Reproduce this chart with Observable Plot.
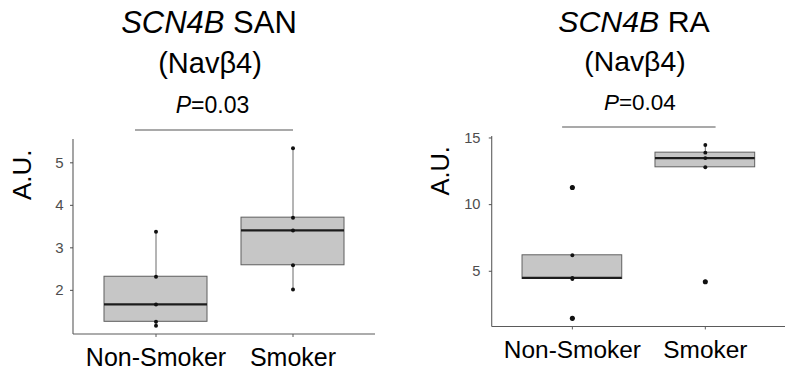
<!DOCTYPE html>
<html>
<head>
<meta charset="utf-8">
<script src="https://cdn.jsdelivr.net/npm/d3@7"></script>
<script src="https://cdn.jsdelivr.net/npm/@observablehq/plot@0.6"></script>
<style>
  html, body { margin: 0; padding: 0; background: #fff; }
  #charts { display: flex; width: 785px; height: 373px; overflow: hidden; }
  .panel { overflow: hidden; flex: none; }
</style>
</head>
<body>
<div id="charts"></div>
<script>
// Expression of SCN4B (Navβ4) in sinoatrial node and right atrium, by smoking status
const groups = ["Non-Smoker", "Smoker"];

const sanNonSmoker = [3.38, 2.32, 1.67, 1.26, 1.17];
const sanSmoker = [5.34, 3.71, 3.41, 2.59, 2.02];
const raNonSmoker = [11.29, 6.2, 4.5, 4.42, 1.47];
const raSmoker = [14.47, 13.9, 13.49, 12.8, 4.22];

const sanTicks = [2, 3, 4, 5];
const raTicks = [5, 10, 15];

const geneName = "SCN4B";
const proteinName = "(Navβ4)";
const tissues = ["SAN", "RA"];
const pValues = ["0.03", "0.04"];
const yLabel = "A.U.";

const font = "'Liberation Sans', Arial, Helvetica, sans-serif";
const axisGrey = "#5a5a5a";

// Tukey box statistics (type-7 quantiles, 1.5 × IQR whiskers)
function boxStats(group, values) {
  const v = values.slice().sort(d3.ascending);
  const q1 = d3.quantile(v, 0.25), q2 = d3.quantile(v, 0.5), q3 = d3.quantile(v, 0.75);
  const iqr = q3 - q1;
  const lo = d3.min(v.filter(d => d >= q1 - 1.5 * iqr));
  const hi = d3.max(v.filter(d => d <= q3 + 1.5 * iqr));
  const outliers = v.filter(d => d < lo || d > hi).map(value => ({group, value}));
  return {group, q1, q2, q3, lo, hi, outliers};
}

// Left and bottom axis lines along the frame edges
function axisLines(...args) {
  const dims = args.find(a => a && a.marginLeft !== undefined);
  const g = d3.create("svg:g").attr("stroke", axisGrey).attr("stroke-width", 1.1);
  const x0 = dims.marginLeft, x1 = dims.width - dims.marginRight;
  const y0 = dims.marginTop, y1 = dims.height - dims.marginBottom;
  g.append("line").attr("x1", x0).attr("x2", x0).attr("y1", y0).attr("y2", y1);
  g.append("line").attr("x1", x0).attr("x2", x1).attr("y1", y1).attr("y2", y1);
  return g.node();
}

function panel({series, ticks, tissue, p, width, marginLeft, marginRight,
                titleDx, subDx, pDx, bracketLeft, bracketRight, yLabelDx, tickPadding}) {
  const records = groups.flatMap((g, i) => series[i].map(value => ({group: g, value})));
  const stats = groups.map((g, i) => boxStats(g, series[i]));
  const outliers = stats.flatMap(s => s.outliers);
  const [mn, mx] = d3.extent(records, d => d.value);
  const pad = (mx - mn) * 0.05;
  const domain = [mn - pad, mx + pad];

  const svg = Plot.plot({
    width, height: 373,
    marginTop: 139, marginBottom: 39, marginLeft, marginRight,
    style: {fontFamily: font, background: "#fff", overflow: "visible"},
    x: {type: "band", domain: groups, paddingInner: 0.25, paddingOuter: 0.225, label: null},
    y: {domain, label: null},
    marks: [
      axisLines,
      Plot.ruleX(stats, {x: "group", y1: "lo", y2: "q1", stroke: "#6a6a6a", strokeWidth: 1}),
      Plot.ruleX(stats, {x: "group", y1: "q3", y2: "hi", stroke: "#6a6a6a", strokeWidth: 1}),
      Plot.barY(stats, {x: "group", y1: "q1", y2: "q3", fill: "#c6c6c6", stroke: "#5e5e5e", strokeWidth: 1}),
      Plot.tickY(stats, {x: "group", y: "q2", stroke: "#1c1c1c", strokeWidth: 2.2}),
      Plot.dot(outliers, {x: "group", y: "value", r: 2.6, fill: "#111", stroke: "none"}),
      Plot.dot(records, {x: "group", y: "value", r: 2, fill: "#111", stroke: "none"}),
      Plot.axisY({ticks, tickFormat: d => String(d), tickSize: 3, tickPadding, fontSize: 15, color: "#4d4d4d", label: null}),
      Plot.axisX({tickSize: 3, tickPadding: 11, fontSize: 25, stroke: axisGrey, fill: "#000", label: null}),
      // significance bracket just above the panel
      Plot.ruleY([domain[1]], {dy: -9.5, insetLeft: bracketLeft, insetRight: bracketRight, stroke: "#555", strokeWidth: 1.1}),
      Plot.text([`${geneName} ${tissue}`], {frameAnchor: "top", dx: titleDx, dy: -107, lineAnchor: "bottom", fontSize: 31, fill: "#000"}),
      Plot.text([proteinName], {frameAnchor: "top", dx: subDx, dy: -67, lineAnchor: "bottom", fontSize: 29, fill: "#000"}),
      Plot.text([`P=${p}`], {frameAnchor: "top", dx: pDx, dy: -27, lineAnchor: "bottom", fontSize: 23, fill: "#000"}),
      Plot.text([yLabel], {frameAnchor: "left", rotate: -90, dx: yLabelDx, dy: -37, fontSize: 26, fill: "#000"})
    ]
  });

  // italic gene symbol and italic P
  d3.select(svg).selectAll("text").each(function() {
    const t = this.textContent;
    const ns = "http://www.w3.org/2000/svg";
    let head = null, rest = null;
    if (t === `${geneName} ${tissue}`) { head = geneName; rest = ` ${tissue}`; }
    else if (t === `P=${p}`) { head = "P"; rest = `=${p}`; }
    if (head === null) return;
    while (this.firstChild) this.removeChild(this.firstChild);
    const a = document.createElementNS(ns, "tspan");
    a.setAttribute("font-style", "italic");
    a.textContent = head;
    const b = document.createElementNS(ns, "tspan");
    b.textContent = rest;
    this.appendChild(a);
    this.appendChild(b);
  });
  return svg;
}

const root = document.getElementById("charts");

const left = document.createElement("div");
left.className = "panel";
left.style.width = "392px";
left.appendChild(panel({
  series: [sanNonSmoker, sanSmoker], ticks: sanTicks, tissue: tissues[0], p: pValues[0],
  width: 392, marginLeft: 73, marginRight: 17,
  titleDx: -15.5, subDx: -14.5, pDx: -12, bracketLeft: 62, bracketRight: 82, yLabelDx: -51, tickPadding: 7
}));
root.appendChild(left);

const right = document.createElement("div");
right.className = "panel";
right.style.width = "393px";
right.appendChild(panel({
  series: [raNonSmoker, raSmoker], ticks: raTicks, tissue: tissues[1], p: pValues[1],
  width: 402, marginLeft: 102, marginRight: 0,
  titleDx: -5, subDx: -4, pDx: 1, bracketLeft: 72, bracketRight: 71, yLabelDx: -53, tickPadding: 9
}));
root.appendChild(right);
</script>
</body>
</html>
